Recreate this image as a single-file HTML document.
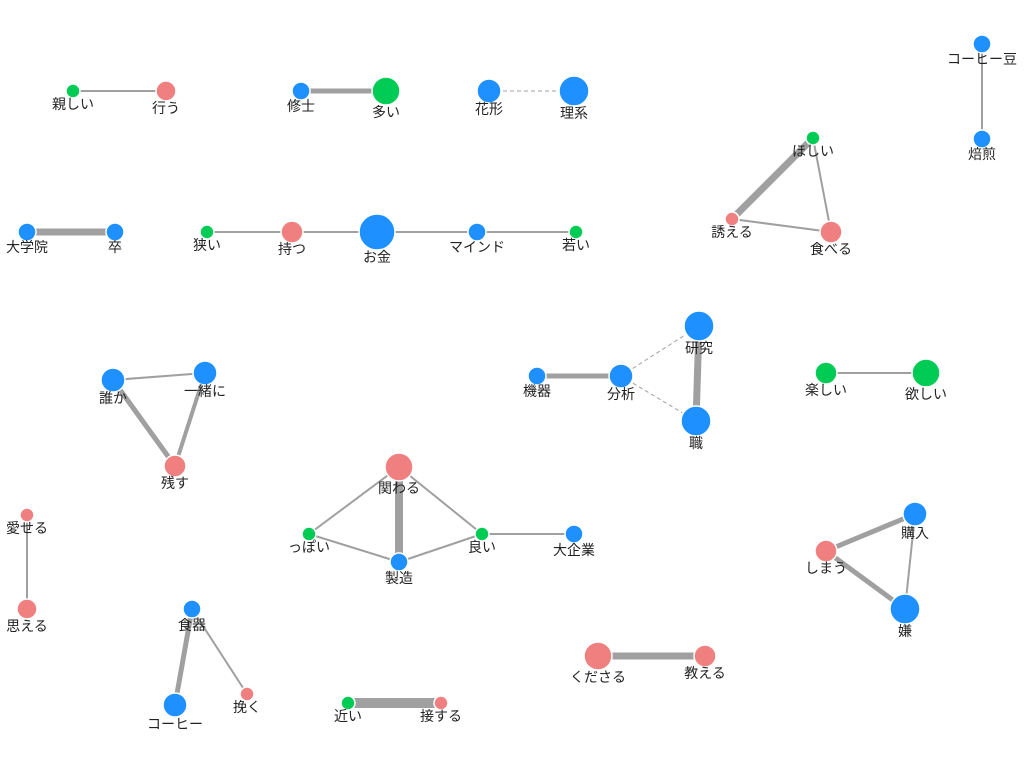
<!DOCTYPE html>
<html><head><meta charset="utf-8"><style>
html,body{margin:0;padding:0;background:#fff;}
text{font-family:"Liberation Sans","Noto Sans CJK JP",sans-serif;font-size:14px;fill:#222;text-anchor:middle;}
</style></head><body>
<svg width="1024" height="768" viewBox="0 0 1024 768" xmlns="http://www.w3.org/2000/svg">
<g stroke="#a0a0a0" fill="none">
<line x1="73" y1="91" x2="166" y2="91" stroke-width="2"/>
<line x1="301" y1="91" x2="386" y2="91" stroke-width="5"/>
<line x1="489" y1="91" x2="574" y2="91" stroke-width="1" stroke-dasharray="4,3"/>
<line x1="982" y1="44" x2="982" y2="139" stroke-width="2"/>
<line x1="813" y1="138" x2="732" y2="219" stroke-width="7"/>
<line x1="813" y1="138" x2="831" y2="232" stroke-width="2"/>
<line x1="732" y1="219" x2="831" y2="232" stroke-width="2"/>
<line x1="27" y1="232" x2="115" y2="232" stroke-width="7"/>
<line x1="207" y1="232" x2="576" y2="232" stroke-width="2"/>
<line x1="113" y1="380" x2="205" y2="373" stroke-width="2"/>
<line x1="113" y1="380" x2="175" y2="466" stroke-width="5"/>
<line x1="205" y1="373" x2="175" y2="466" stroke-width="4"/>
<line x1="537" y1="376" x2="621" y2="376" stroke-width="5"/>
<line x1="621" y1="376" x2="699" y2="326" stroke-width="1" stroke-dasharray="4,3"/>
<line x1="621" y1="376" x2="696" y2="421" stroke-width="1" stroke-dasharray="4,3"/>
<line x1="699" y1="326" x2="696" y2="421" stroke-width="7"/>
<line x1="826" y1="373" x2="926" y2="373" stroke-width="2"/>
<line x1="27" y1="515" x2="27" y2="609" stroke-width="2"/>
<line x1="399" y1="467" x2="399" y2="562" stroke-width="8"/>
<line x1="399" y1="467" x2="309" y2="534" stroke-width="2"/>
<line x1="399" y1="467" x2="482" y2="534" stroke-width="2"/>
<line x1="309" y1="534" x2="399" y2="562" stroke-width="2"/>
<line x1="399" y1="562" x2="482" y2="534" stroke-width="2"/>
<line x1="482" y1="534" x2="574" y2="534" stroke-width="2"/>
<line x1="826" y1="551" x2="915" y2="514" stroke-width="5"/>
<line x1="826" y1="551" x2="905" y2="609" stroke-width="5"/>
<line x1="915" y1="514" x2="905" y2="609" stroke-width="2"/>
<line x1="192" y1="609" x2="175" y2="705" stroke-width="5"/>
<line x1="192" y1="609" x2="247" y2="694" stroke-width="2"/>
<line x1="598" y1="656" x2="705" y2="656" stroke-width="7"/>
<line x1="348" y1="703" x2="441" y2="703" stroke-width="10"/>
</g>
<g stroke="#fff" stroke-width="1.5">
<circle cx="73" cy="91" r="7" fill="#00cc55"/>
<circle cx="166" cy="91" r="10" fill="#f08080"/>
<circle cx="301" cy="91" r="9" fill="#1e90ff"/>
<circle cx="386" cy="91" r="14" fill="#00cc55"/>
<circle cx="489" cy="91" r="12" fill="#1e90ff"/>
<circle cx="574" cy="91" r="15" fill="#1e90ff"/>
<circle cx="982" cy="44" r="9" fill="#1e90ff"/>
<circle cx="982" cy="139" r="9" fill="#1e90ff"/>
<circle cx="813" cy="138" r="7" fill="#00cc55"/>
<circle cx="732" cy="219" r="7" fill="#f08080"/>
<circle cx="831" cy="232" r="11" fill="#f08080"/>
<circle cx="27" cy="232" r="9" fill="#1e90ff"/>
<circle cx="115" cy="232" r="9" fill="#1e90ff"/>
<circle cx="207" cy="232" r="7" fill="#00cc55"/>
<circle cx="292" cy="232" r="11" fill="#f08080"/>
<circle cx="377" cy="232" r="18" fill="#1e90ff"/>
<circle cx="477" cy="232" r="9" fill="#1e90ff"/>
<circle cx="576" cy="232" r="7" fill="#00cc55"/>
<circle cx="113" cy="380" r="12" fill="#1e90ff"/>
<circle cx="205" cy="373" r="12" fill="#1e90ff"/>
<circle cx="175" cy="466" r="11" fill="#f08080"/>
<circle cx="537" cy="376" r="9" fill="#1e90ff"/>
<circle cx="621" cy="376" r="12" fill="#1e90ff"/>
<circle cx="699" cy="326" r="15" fill="#1e90ff"/>
<circle cx="696" cy="421" r="15" fill="#1e90ff"/>
<circle cx="826" cy="373" r="11" fill="#00cc55"/>
<circle cx="926" cy="373" r="14" fill="#00cc55"/>
<circle cx="27" cy="515" r="7" fill="#f08080"/>
<circle cx="27" cy="609" r="10" fill="#f08080"/>
<circle cx="399" cy="467" r="14" fill="#f08080"/>
<circle cx="309" cy="534" r="7" fill="#00cc55"/>
<circle cx="399" cy="562" r="9" fill="#1e90ff"/>
<circle cx="482" cy="534" r="7" fill="#00cc55"/>
<circle cx="574" cy="534" r="9" fill="#1e90ff"/>
<circle cx="915" cy="514" r="12" fill="#1e90ff"/>
<circle cx="826" cy="551" r="11" fill="#f08080"/>
<circle cx="905" cy="609" r="15" fill="#1e90ff"/>
<circle cx="192" cy="609" r="9" fill="#1e90ff"/>
<circle cx="175" cy="705" r="12" fill="#1e90ff"/>
<circle cx="247" cy="694" r="7" fill="#f08080"/>
<circle cx="598" cy="656" r="14" fill="#f08080"/>
<circle cx="705" cy="656" r="11" fill="#f08080"/>
<circle cx="348" cy="703" r="7" fill="#00cc55"/>
<circle cx="441" cy="703" r="7" fill="#f08080"/>
</g>
<g>
<text x="73" y="109">親しい</text>
<text x="166" y="113">行う</text>
<text x="301" y="111">修士</text>
<text x="386" y="117">多い</text>
<text x="489" y="114">花形</text>
<text x="574" y="118">理系</text>
<text x="982" y="64">コーヒー豆</text>
<text x="982" y="159">焙煎</text>
<text x="813" y="156">ほしい</text>
<text x="732" y="237">誘える</text>
<text x="831" y="254">食べる</text>
<text x="27" y="252">大学院</text>
<text x="115" y="252">卒</text>
<text x="207" y="250">狭い</text>
<text x="292" y="254">持つ</text>
<text x="377" y="262">お金</text>
<text x="477" y="252">マインド</text>
<text x="576" y="250">若い</text>
<text x="113" y="403">誰か</text>
<text x="205" y="396">一緒に</text>
<text x="175" y="488">残す</text>
<text x="537" y="396">機器</text>
<text x="621" y="399">分析</text>
<text x="699" y="353">研究</text>
<text x="696" y="448">職</text>
<text x="826" y="395">楽しい</text>
<text x="926" y="399">欲しい</text>
<text x="27" y="533">愛せる</text>
<text x="27" y="631">思える</text>
<text x="399" y="493">関わる</text>
<text x="309" y="552">っぽい</text>
<text x="399" y="583">製造</text>
<text x="482" y="552">良い</text>
<text x="574" y="555">大企業</text>
<text x="915" y="538">購入</text>
<text x="826" y="573">しまう</text>
<text x="905" y="636">嫌</text>
<text x="192" y="630">食器</text>
<text x="175" y="729">コーヒー</text>
<text x="247" y="712">挽く</text>
<text x="598" y="682">くださる</text>
<text x="705" y="678">教える</text>
<text x="348" y="721">近い</text>
<text x="441" y="721">接する</text>
</g>
</svg>
</body></html>
